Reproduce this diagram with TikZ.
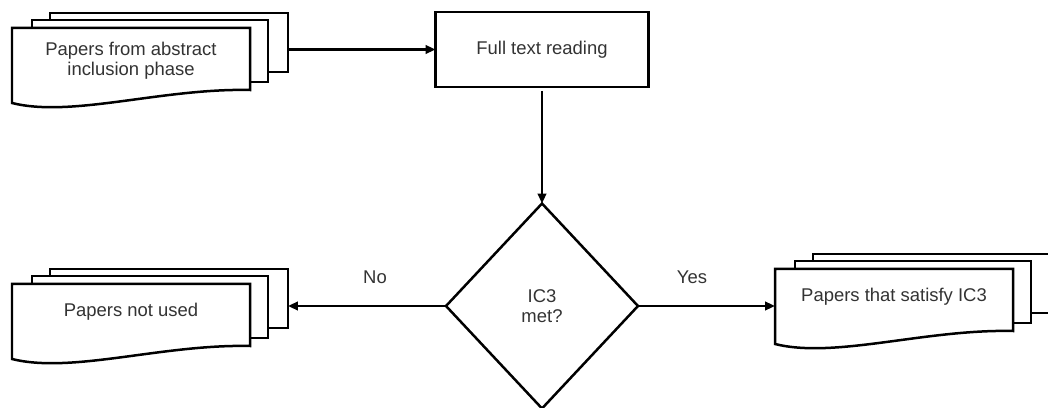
\documentclass[tikz,border=0pt]{standalone}
\usepackage{fontspec}
\setmainfont{Liberation Sans}
\usepackage{xcolor}
\usepackage{tikz}
\usetikzlibrary{shapes.geometric,arrows.meta,positioning,calc}

\definecolor{labelgray}{HTML}{333333}

\tikzset{
    sheet/.style={draw, line width=0.05cm, fill=white, inner sep=0pt, outer sep=0pt},
    doctext/.style={text=labelgray, align=center, inner sep=0pt, outer sep=0pt,
        minimum width=4.76cm, minimum height=1cm},
    process/.style={draw, line width=0.05cm, text=labelgray, outer sep=0pt,
        minimum width=4.26cm, minimum height=1.5cm},
    decision/.style={diamond, draw, line width=0.05cm, text=labelgray, align=center,
        inner sep=0pt, outer sep=0pt, minimum width=3.84cm, minimum height=4.1cm},
    lbl/.style={text=labelgray},
    flow/.style={line width=0.05cm, -{Triangle[length=0.2cm,width=0.17cm]}}
}

% stack of papers: [text offset], name, x, y (top left of front sheet), text
\newcommand{\paperstack}[5][28]{%
    \begin{scope}[shift={(#3,#4)}]
        \node[sheet, minimum width=4.76cm, minimum height=1.18cm] (#2-back) at (157,14.5) {};
        \node[sheet, minimum width=4.72cm, minimum height=1.24cm] (#2-mid) at (138,23) {};
        \draw[sheet] (0,0) -- (238,0) -- (238,62)
            .. controls (150,60) and (60,90) .. (0,75) -- cycle;
        \node[doctext] (#2) at (119,#1) {#5};
    \end{scope}}

\begin{document}
\begin{tikzpicture}[x=0.02cm, y=-0.02cm, font=\fontsize{10.5}{11.5}\selectfont]
    \useasboundingbox (0,0) rectangle (1048,408);

    \paperstack[33]{abstract}{12}{28}{Papers from abstract\\inclusion phase}
    \paperstack{notused}{12}{284}{Papers not used}
    \paperstack{satisfy}{775}{269}{Papers that satisfy IC3}

    \node[process] (read) at (542,49.5) {Full text reading};
    \node[decision] (dec) at (542,306) {IC3\\met?};

    \node[lbl] (no) at (375,277) {No};
    \node[lbl] (yes) at (692,277) {Yes};

    \draw[flow] (abstract-back.east |- read) -- (read);
    \draw[flow, shorten <=0.08cm] (read) -- (dec);
    \draw[flow] (dec) -- (dec -| notused-back.east);
    \draw[flow] (dec) -- (dec -| satisfy.west);
\end{tikzpicture}
\end{document}
